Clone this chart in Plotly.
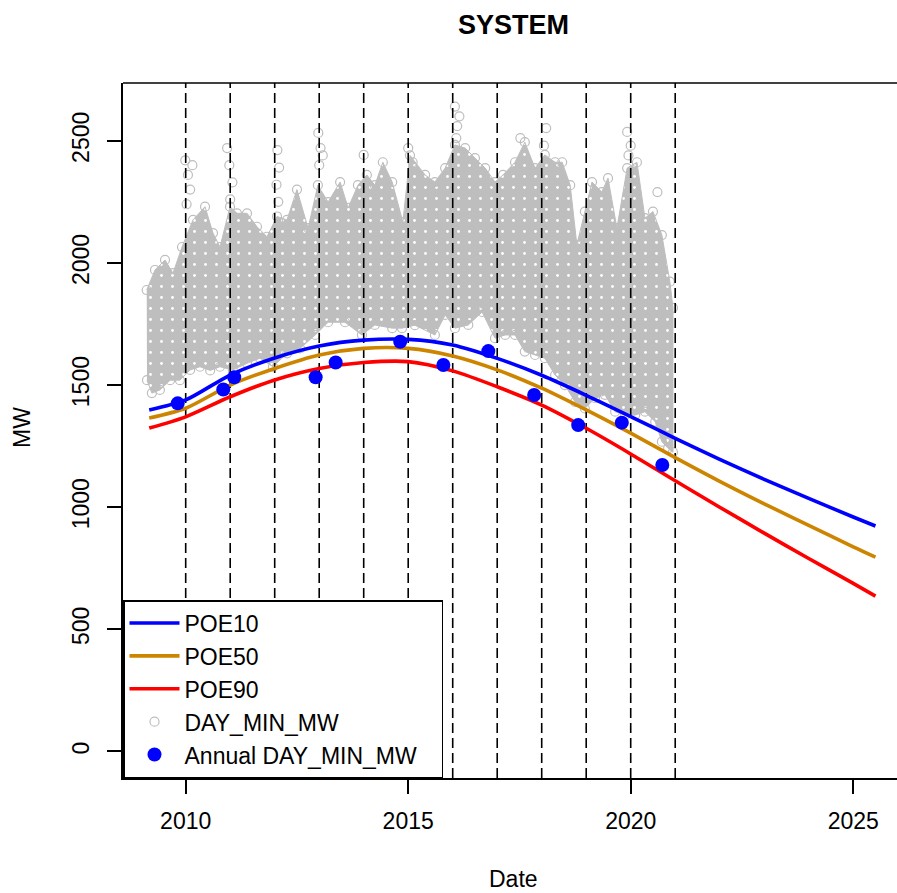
import plotly.graph_objects as go

# ---- forecast curves (decimal year -> MW) ----
curve_years = [2009.18, 2010, 2011, 2012, 2013, 2014, 2015, 2016, 2017, 2018,
               2019, 2020, 2021, 2022, 2023, 2024, 2025, 2025.5]
poe10 = [1398, 1439, 1541, 1611, 1660, 1684, 1687, 1664, 1609, 1540,
         1458, 1371, 1282, 1196, 1114, 1036, 960, 923]
poe50 = [1365, 1405, 1500, 1568, 1623, 1650, 1650, 1619, 1562, 1487,
         1398, 1303, 1203, 1106, 1014, 926, 838, 796]
poe90 = [1324, 1370, 1452, 1521, 1568, 1592, 1596, 1558, 1493, 1418,
         1323, 1218, 1108, 1000, 894, 790, 688, 636]

# ---- annual minimum points ----
annual_years = [2009.82, 2010.845, 2011.09, 2012.92, 2013.37, 2014.82,
                2015.79, 2016.80, 2017.83, 2018.82, 2019.80, 2020.71]
annual_mw = [1425, 1482, 1532, 1532, 1592, 1677, 1582, 1639, 1459, 1336, 1346, 1173]

# ---- daily minimum cloud: upper / lower envelope and isolated highs ----
upper_years = [2009.124, 2009.31, 2009.535, 2009.715, 2009.917, 2010.164, 2010.434,
               2010.613, 2010.771, 2010.996, 2011.153, 2011.378, 2011.602, 2011.827,
               2012.052, 2012.276, 2012.50, 2012.75, 2012.97, 2013.20, 2013.47,
               2013.65, 2013.87, 2014.07, 2014.25, 2014.43, 2014.64, 2014.88,
               2015.04, 2015.38, 2015.60, 2015.83, 2016.05, 2016.28, 2016.50,
               2016.73, 2016.95, 2017.13, 2017.40, 2017.62, 2017.85, 2018.07,
               2018.30, 2018.46, 2018.64, 2018.79, 2018.97, 2019.13, 2019.35,
               2019.49, 2019.69, 2019.92, 2020.14, 2020.32, 2020.50, 2020.70,
               2020.88, 2020.95]
upper_mw = [1889, 1971, 2012, 1958, 2065, 2176, 2230,
            2122, 2065, 2230, 2203, 2203, 2148, 2107,
            2190, 2176, 2300, 2142, 2318, 2249, 2331,
            2225, 2318, 2360, 2318, 2412, 2331, 2167,
            2440, 2360, 2331, 2388, 2483, 2470, 2429,
            2388, 2331, 2360, 2412, 2494, 2388, 2442,
            2412, 2412, 2318, 2074, 2210, 2331, 2290,
            2347, 2142, 2388, 2412, 2183, 2210, 2114,
            1923, 1816]

lower_years = [2009.13, 2009.24, 2009.42, 2009.65, 2009.87, 2010.10, 2010.32,
               2010.55, 2010.77, 2011.06, 2011.38, 2011.67, 2011.96, 2012.28,
               2012.57, 2012.91, 2013.20, 2013.58, 2013.96, 2014.25, 2014.64,
               2014.86, 2015.15, 2015.60, 2015.83, 2016.05, 2016.35, 2016.66,
               2016.95, 2017.18, 2017.40, 2017.62, 2017.85, 2018.07, 2018.30,
               2018.52, 2018.75, 2018.97, 2019.20, 2019.42, 2019.65, 2019.87,
               2020.10, 2020.32, 2020.55, 2020.70, 2020.84, 2020.95]
lower_mw = [1520, 1467, 1480, 1520, 1520, 1562, 1575,
            1560, 1575, 1562, 1589, 1610, 1575, 1630,
            1650, 1705, 1757, 1757, 1705, 1746, 1733,
            1733, 1745, 1705, 1787, 1733, 1746, 1799,
            1692, 1705, 1705, 1637, 1623, 1610, 1541,
            1500, 1431, 1404, 1446, 1460, 1391, 1377,
            1377, 1391, 1350, 1268, 1241, 1225]

high_years = [2009.99, 2010.05, 2010.10, 2010.02, 2010.15,
              2010.93, 2010.98, 2011.05, 2011.00,
              2012.06, 2012.10, 2012.04, 2012.08,
              2012.98, 2013.03, 2013.00, 2013.08,
              2014.00, 2015.00, 2015.10,
              2016.05, 2016.15, 2016.10, 2016.08,
              2017.52, 2018.10, 2018.05,
              2019.92, 2020.00, 2019.95, 2020.60]
high_mw = [2420, 2360, 2300, 2240, 2400,
           2470, 2400, 2330, 2260,
           2462, 2390, 2320, 2250,
           2532, 2470, 2400, 2440,
           2442, 2470, 2412,
           2640, 2600, 2560, 2511,
           2511, 2552, 2480,
           2536, 2480, 2440, 2290]

# ---- calendar-year boundaries ----
year_marks = list(range(2010, 2022))

x_ticks = [2010, 2015, 2020, 2025]
y_ticks = [0, 500, 1000, 1500, 2000, 2500]
x_range = [2008.591, 2025.984]
y_range = [-108.5, 2736.4]

W, H = 897, 893
L, T, B, R = 123, 83, 115, 0
FONT = "Liberation Sans, Arial, sans-serif"
GRAY = "#bebebe"


def px_x(p):
    return (p - L) / (W - L - R)


def px_y(p):
    return (H - B - p) / (H - T - B)


fig = go.Figure()

# dense band of daily values (light speckle like overlapping open circles)
fig.add_trace(go.Scatter(
    x=upper_years + lower_years[::-1],
    y=upper_mw + lower_mw[::-1],
    fill="toself", fillcolor=GRAY, mode="lines",
    fillpattern=dict(shape=".", fgcolor="white", bgcolor=GRAY, size=11,
                     solidity=0.05, fillmode="replace"),
    line=dict(color=GRAY, width=1), showlegend=False, hoverinfo="skip"))

# individual daily markers along the band edges and isolated highs
fig.add_trace(go.Scatter(
    x=upper_years + lower_years + high_years,
    y=upper_mw + lower_mw + high_mw,
    mode="markers", name="DAY_MIN_MW", legendrank=4,
    marker=dict(symbol="circle-open", size=9, color=GRAY, line=dict(width=1.2))))

# dashed year boundaries
vx, vy = [], []
for yr in year_marks:
    vx += [yr, yr, None]
    vy += [y_range[0], y_range[1], None]
fig.add_trace(go.Scatter(x=vx, y=vy, mode="lines", showlegend=False, hoverinfo="skip",
                         line=dict(color="black", width=1.6, dash="10px,5px")))

for name, vals, col, rank in [("POE10", poe10, "#0000ff", 1),
                              ("POE50", poe50, "#cd8500", 2),
                              ("POE90", poe90, "#ff0000", 3)]:
    fig.add_trace(go.Scatter(x=curve_years, y=vals, mode="lines", name=name,
                             legendrank=rank,
                             line=dict(color=col, width=3.6, shape="spline", smoothing=0.8)))

fig.add_trace(go.Scatter(x=annual_years, y=annual_mw, mode="markers",
                         name="Annual DAY_MIN_MW\u00a0\u00a0\u00a0", legendrank=5,
                         marker=dict(symbol="circle", size=14, color="#0000ff")))

axis_common = dict(showline=True, linecolor="black", linewidth=1.5, ticks="outside",
                   ticklen=14, tickwidth=1.5, tickcolor="black", showgrid=False,
                   zeroline=False, mirror=False,
                   tickfont=dict(family=FONT, size=23, color="black"))

fig.update_layout(
    width=W, height=H,
    margin=dict(l=L, r=R, t=T, b=B),
    paper_bgcolor="white", plot_bgcolor="white",
    xaxis=dict(range=x_range, tickvals=x_ticks, ticklabelstandoff=8,
               ticktext=[str(v) for v in x_ticks], **axis_common),
    yaxis=dict(range=y_range, tickvals=y_ticks, ticklabelstandoff=9,
               ticktext=[str(v) for v in y_ticks], tickangle=-90, **axis_common),
    legend=dict(x=0, y=0, xanchor="left", yanchor="bottom", bgcolor="white",
                bordercolor="black", borderwidth=1.5, itemwidth=50,
                font=dict(family=FONT, size=23, color="black")),
    shapes=[dict(type="line", xref="paper", yref="paper", x0=0, x1=1, y0=1, y1=1,
                 line=dict(color="black", width=1.5))],
    annotations=[
        dict(text="<b>SYSTEM</b>", xref="paper", yref="paper", x=px_x(513.5), y=px_y(25),
             xanchor="center", yanchor="middle", showarrow=False,
             font=dict(family=FONT, size=27, color="black")),
        dict(text="Date", xref="paper", yref="paper", x=px_x(513), y=px_y(879),
             xanchor="center", yanchor="middle", showarrow=False,
             font=dict(family=FONT, size=23, color="black")),
        dict(text="MW", xref="paper", yref="paper", x=px_x(22), y=px_y(428),
             xanchor="center", yanchor="middle", showarrow=False, textangle=-90,
             font=dict(family=FONT, size=23, color="black")),
    ],
)

fig.write_html("out.html")
